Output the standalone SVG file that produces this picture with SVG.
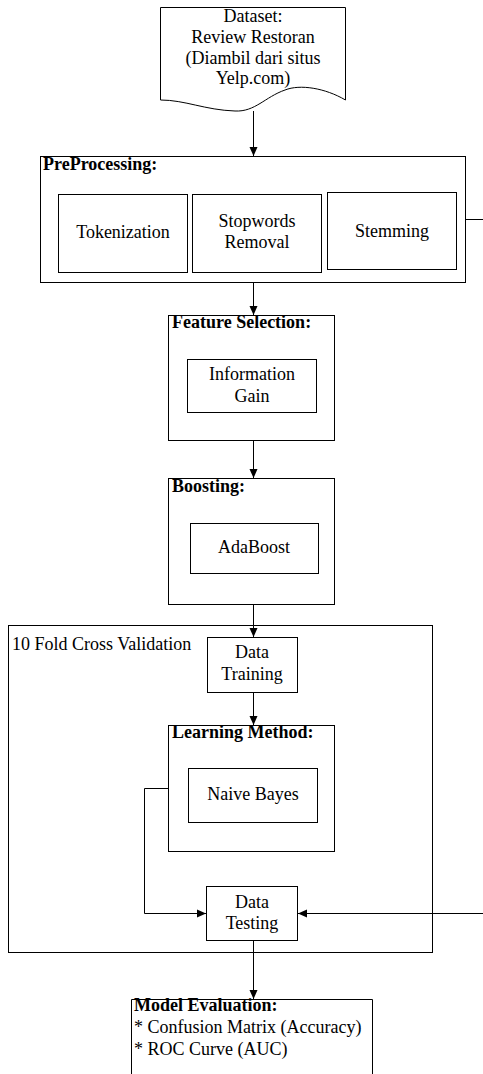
<svg xmlns="http://www.w3.org/2000/svg" width="483" height="1074" viewBox="0 0 483 1074">
<style>
.b{fill:#fff;stroke:#000;stroke-width:1}
.t{font-family:"Liberation Serif","Times New Roman",serif;font-size:18px;fill:#000}
.c{text-anchor:middle}
.h{font-weight:bold}
.l{fill:none;stroke:#000;stroke-width:1}
</style>
<defs>
<marker id="ah" markerWidth="10" markerHeight="10" refX="9" refY="5" orient="auto" markerUnits="userSpaceOnUse">
<path d="M0,1 L9,5 L0,9 Z" fill="#000"/>
</marker>
</defs>
<rect width="483" height="1074" fill="#fff"/>
<g id="dataset">
<path class="b" d="M160.5,7.5 H345.5 V100 C325,88 300,84 285,90 C265,97 255,112 235,111 C205,110 185,100 160.5,100 Z"/>
<text class="t c" x="253" y="22">Dataset:</text>
<text class="t c" x="253" y="43">Review Restoran</text>
<text class="t c" x="253" y="64">(Diambil dari situs</text>
<text class="t c" x="253" y="84">Yelp.com)</text>
</g>
<g id="preprocessing">
<rect class="b" x="40.5" y="156.5" width="425" height="126"/>
<text class="t h" x="43" y="170">PreProcessing:</text>
</g>
<g id="tokenization">
<rect class="b" x="58.5" y="194.5" width="129" height="78"/>
<text class="t c" x="123" y="238">Tokenization</text>
</g>
<g id="stopwords">
<rect class="b" x="192.5" y="194.5" width="129" height="78"/>
<text class="t c" x="257" y="227">Stopwords</text>
<text class="t c" x="257" y="248">Removal</text>
</g>
<g id="stemming">
<rect class="b" x="327.5" y="192.5" width="129" height="77"/>
<text class="t c" x="392" y="237">Stemming</text>
</g>
<g id="feature-selection">
<rect class="b" x="168.5" y="315.5" width="166" height="125"/>
<text class="t h" x="172" y="328">Feature Selection:</text>
</g>
<g id="information-gain">
<rect class="b" x="187.5" y="359.5" width="129" height="53"/>
<text class="t c" x="252" y="380">Information</text>
<text class="t c" x="252" y="402">Gain</text>
</g>
<g id="boosting">
<rect class="b" x="168.5" y="478.5" width="166" height="126"/>
<text class="t h" x="172" y="492">Boosting:</text>
</g>
<g id="adaboost">
<rect class="b" x="190.5" y="523.5" width="128" height="50"/>
<text class="t c" x="254" y="553">AdaBoost</text>
</g>
<g id="cross-validation">
<rect class="b" x="8.5" y="625.5" width="424" height="327"/>
<text class="t" x="12" y="650">10 Fold Cross Validation</text>
</g>
<g id="data-training">
<rect class="b" x="207.5" y="637.5" width="90" height="55"/>
<text class="t c" x="252" y="658">Data</text>
<text class="t c" x="252" y="680">Training</text>
</g>
<g id="learning-method">
<rect class="b" x="168.5" y="725.5" width="166" height="126"/>
<text class="t h" x="172" y="738">Learning Method:</text>
</g>
<g id="naive-bayes">
<rect class="b" x="188.5" y="768.5" width="129" height="54"/>
<text class="t c" x="253" y="800">Naive Bayes</text>
</g>
<g id="data-testing">
<rect class="b" x="206.5" y="886.5" width="91" height="54"/>
<text class="t c" x="252" y="908">Data</text>
<text class="t c" x="252" y="929">Testing</text>
</g>
<g id="model-evaluation">
<path class="b" d="M131.5,1080 V999.5 H372.5 V1080"/>
<text class="t h" x="134" y="1011">Model Evaluation:</text>
<text class="t" x="134" y="1033">* Confusion Matrix (Accuracy)</text>
<text class="t" x="134" y="1055">* ROC Curve (AUC)</text>
</g>
<g id="connectors">
<path class="l" d="M253.5,111 V156" marker-end="url(#ah)"/>
<path class="l" d="M253.5,282.5 V315" marker-end="url(#ah)"/>
<path class="l" d="M253.5,440.5 V478" marker-end="url(#ah)"/>
<path class="l" d="M253.5,604.5 V637" marker-end="url(#ah)"/>
<path class="l" d="M253.5,692.5 V725" marker-end="url(#ah)"/>
<path class="l" d="M253.5,940.5 V999" marker-end="url(#ah)"/>
<path class="l" d="M168.5,788.5 H144.5 V913.5 H206" marker-end="url(#ah)"/>
<path class="l" d="M465.5,219.5 H490 V913.5 H298" marker-end="url(#ah)"/>
</g>
</svg>
